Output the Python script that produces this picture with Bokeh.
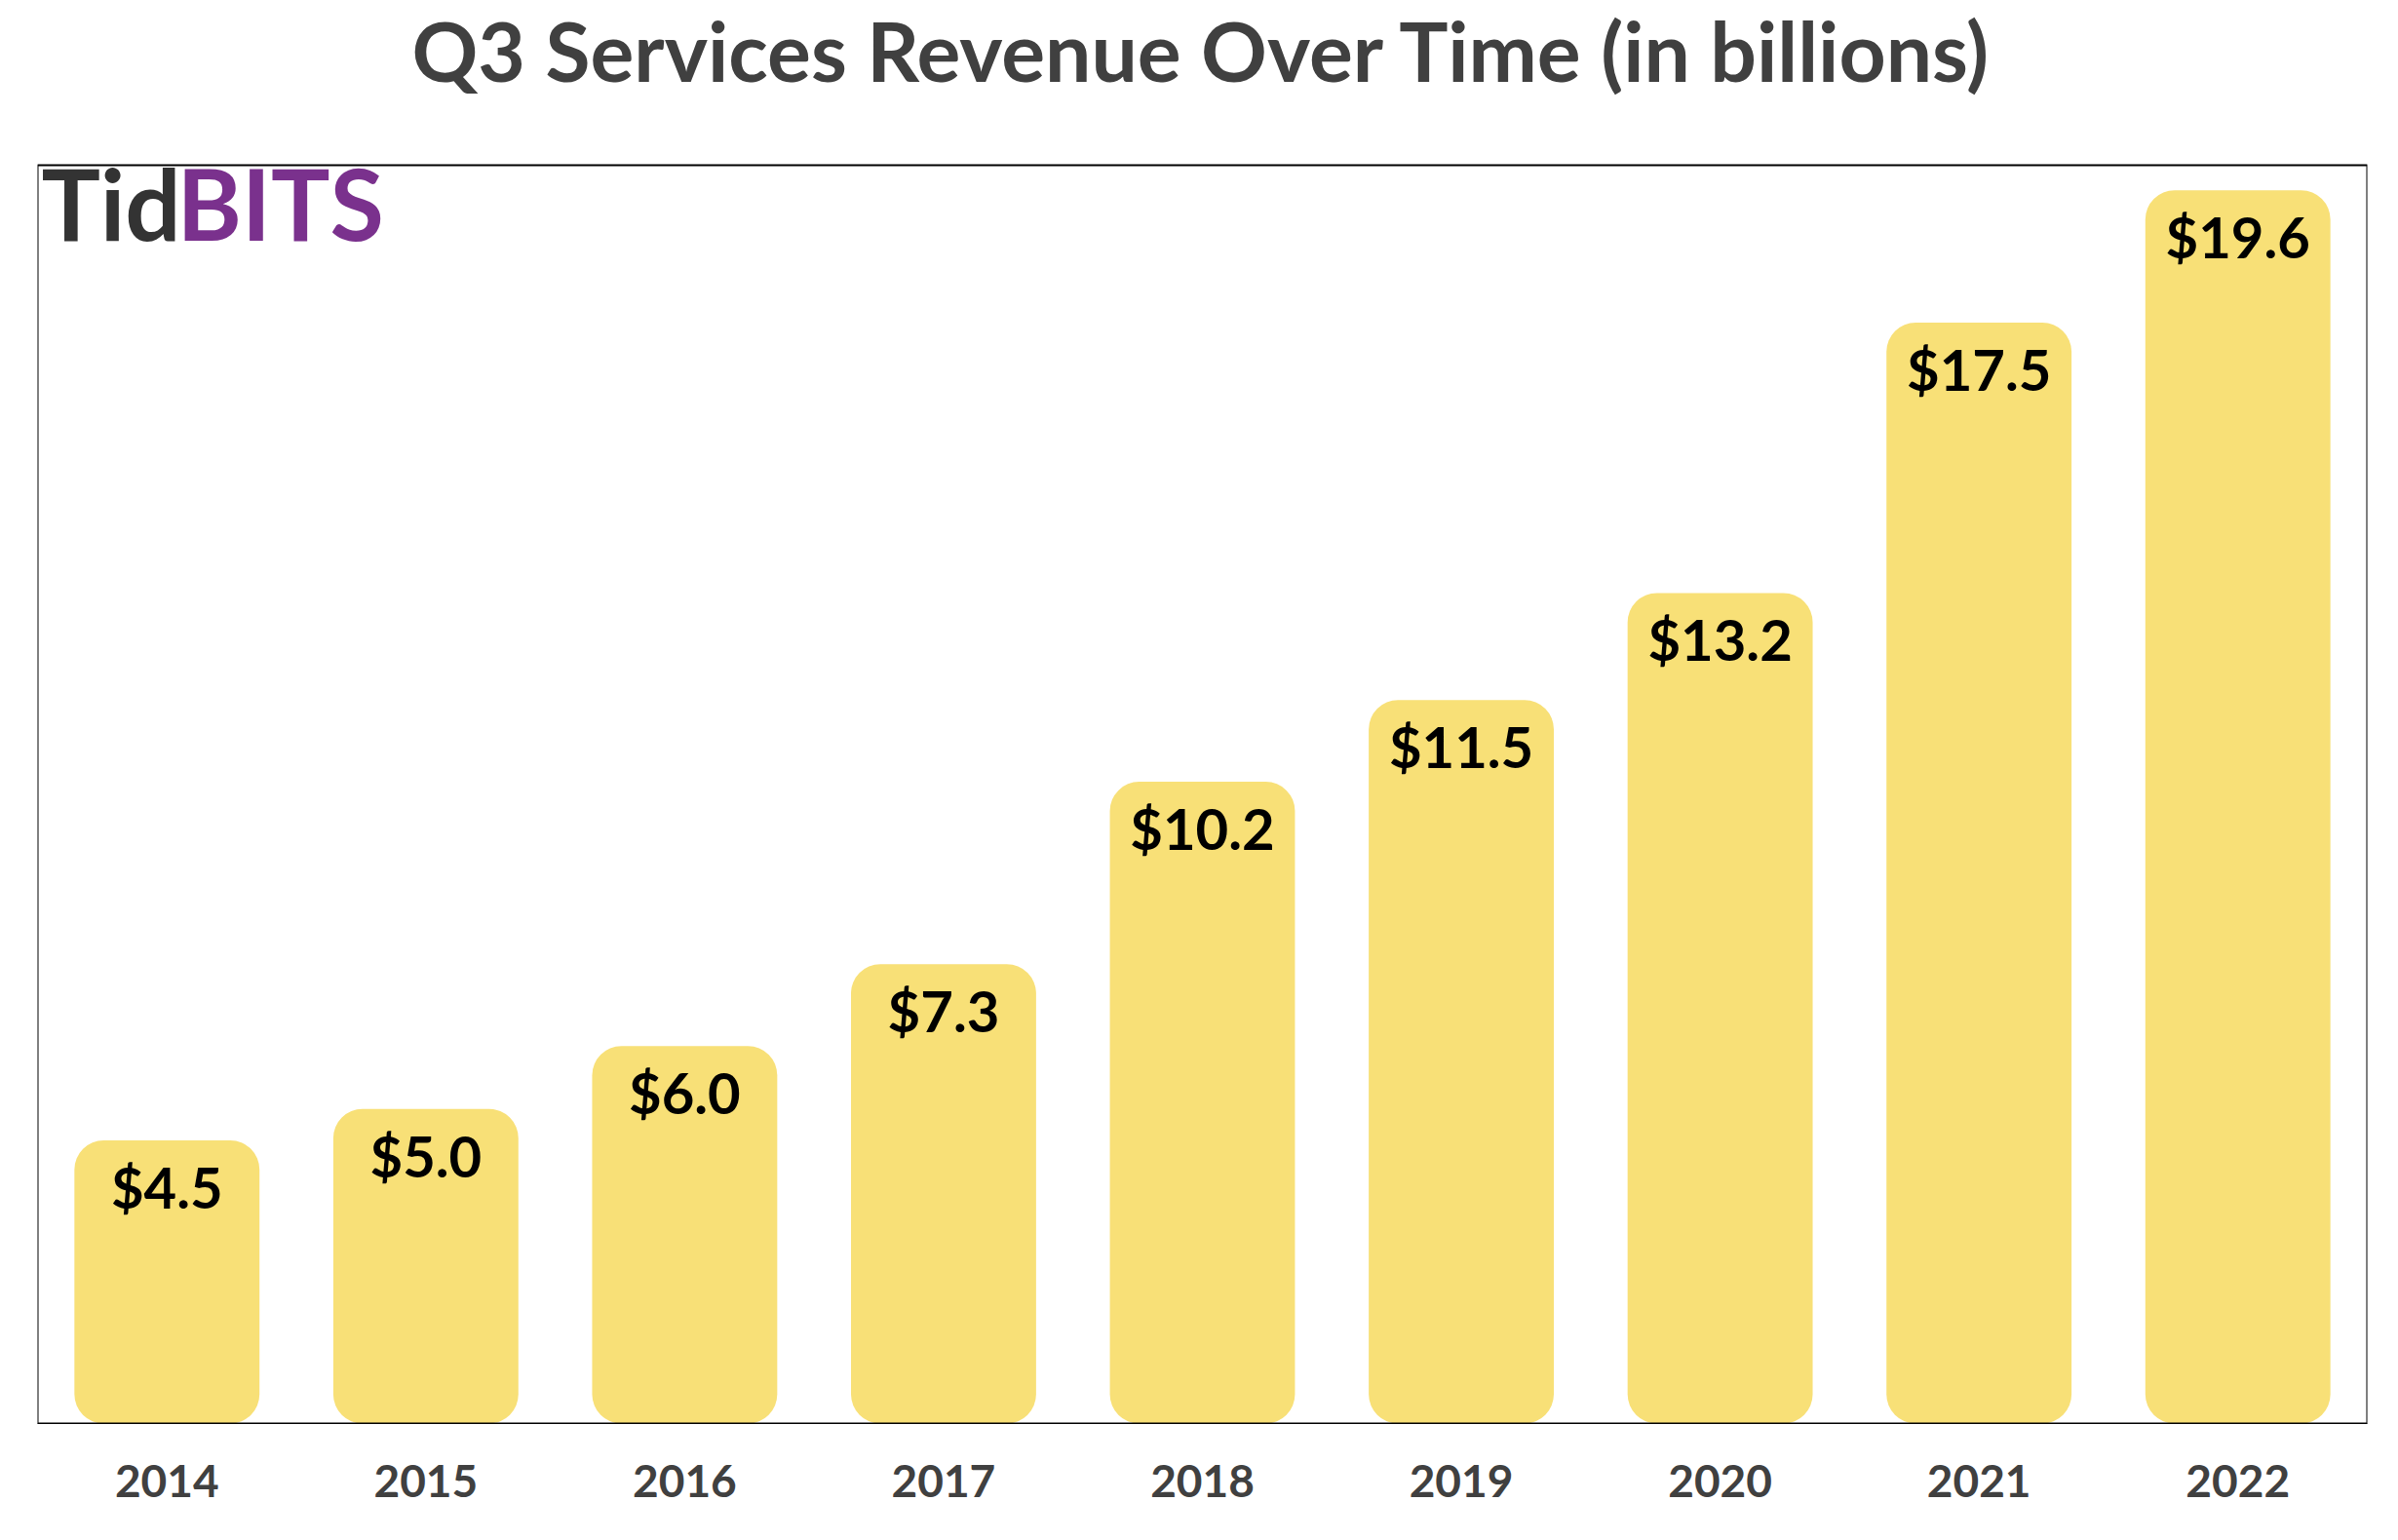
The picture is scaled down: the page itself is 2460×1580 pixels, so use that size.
from bokeh.plotting import figure
from bokeh.models import ColumnDataSource, FactorRange, Range1d
from bokeh.embed import file_html
from bokeh.resources import INLINE
from bokeh.core.properties import value

years = ["2014", "2015", "2016", "2017", "2018", "2019", "2020", "2021", "2022"]
revenue = [4.5, 5.0, 6.0, 7.3, 10.2, 11.5, 13.2, 17.5, 19.6]
labels = [f"${v:.1f}" for v in revenue]
title = "Q3 Services Revenue Over Time (in billions)"
logo_dark = "Tid"
logo_purple = "BITS"

Y_MAX = 20  # top of the boxed plotting area (value scale)

# layout constants (pixels)
W, H = 2444, 1564
BOTTOM = 104
HEADER = 169  # space above the box for the title
frame_h = H - BOTTOM
y_top = Y_MAX * frame_h / (frame_h - HEADER)

src = ColumnDataSource(dict(x=years, top=revenue, label=labels))

p = figure(x_range=FactorRange(*years, range_padding=0), y_range=Range1d(0, y_top),
           width=W, height=H, output_backend="svg", toolbar_location=None,
           min_border_left=38, min_border_right=16, min_border_top=0,
           min_border_bottom=BOTTOM)

p.vbar(x="x", top="top", bottom=0, width=0.715, source=src,
       fill_color="#F8E077", line_color=None, border_radius=30)

p.text(x="x", y="top", text="label", source=src, text_align="center",
       text_baseline="top", y_offset=13, text_font=value("Lato"),
       text_font_style="bold", text_font_size="58px", text_color="black")

# box around the plotting area
p.quad(left=[0], right=[len(years)], bottom=[0], top=[Y_MAX], fill_color=None,
       line_color="black", line_width=2)

# logo (top-left corner of the box)
p.text(x=[0], y=[Y_MAX], text=[logo_dark], x_offset=4, y_offset=-23,
       text_font=value("Lato"), text_font_style="bold", text_font_size="101px",
       text_color="#333333", text_baseline="top", text_align="left")
p.text(x=[0], y=[Y_MAX], text=[logo_purple], x_offset=143, y_offset=-23,
       text_font=value("Lato"), text_font_style="bold", text_font_size="101px",
       text_color="#7A318D", text_baseline="top", text_align="left")

# chart title, centred above the box
p.text(x=[len(years) / 2], y=[y_top], text=[title], y_offset=0,
       text_font=value("Lato"), text_font_style="bold", text_font_size="84px",
       text_color="#404040", text_baseline="top", text_align="center")

p.outline_line_color = None
p.xgrid.grid_line_color = None
p.ygrid.grid_line_color = None
p.yaxis.visible = False
p.xaxis.axis_line_color = "black"
p.xaxis.major_tick_line_color = None
p.xaxis.minor_tick_line_color = None
p.xaxis.major_label_text_font = "Lato"
p.xaxis.major_label_text_font_style = "bold"
p.xaxis.major_label_text_font_size = "46px"
p.xaxis.major_label_text_color = "#404040"
p.xaxis.major_label_standoff = 36
p.background_fill_color = "white"
p.border_fill_color = "white"

open("out.html", "w").write(file_html(p, INLINE))
